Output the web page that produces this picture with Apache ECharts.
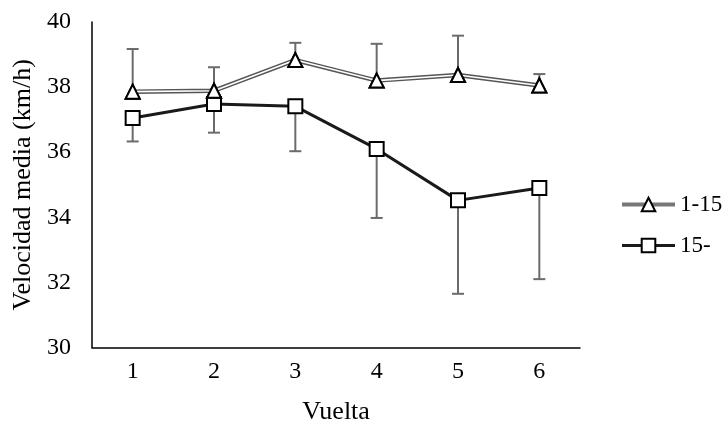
<!DOCTYPE html>
<html>
<head>
<meta charset="utf-8">
<script src="https://cdn.jsdelivr.net/npm/echarts@6/dist/echarts.min.js"></script>
<style>html,body{margin:0;padding:0;background:#fff;}#c{width:723px;height:426px;}</style>
</head>
<body>
<div id="c"></div>
<script>
var categories = ['1', '2', '3', '4', '5', '6'];
var seriesNames = ['1-15', '15-'];
var mean115 = [37.86, 37.89, 38.83, 38.20, 38.37, 38.05];
var sd115 = [1.31, 0.72, 0.53, 1.13, 1.21, 0.35];
var mean15 = [37.05, 37.48, 37.41, 36.10, 34.52, 34.90];
var sd15 = [0.72, 0.88, 1.38, 2.12, 2.87, 2.80];
var yTicks = [30, 32, 34, 36, 38, 40];

var font = "'Liberation Serif', 'Times New Roman', serif";

var errUp = mean115.map(function (m, i) { return [i, m, m + sd115[i]]; });
var errDown = mean15.map(function (m, i) { return [i, m, m - sd15[i]]; });

function renderErr(params, api) {
  var x = api.value(0);
  var p1 = api.coord([x, api.value(1)]);
  var p2 = api.coord([x, api.value(2)]);
  var w = 6;
  var st = { stroke: '#6b6b6b', lineWidth: 2 };
  return {
    type: 'group',
    children: [
      { type: 'line', shape: { x1: p1[0], y1: p1[1], x2: p2[0], y2: p2[1] }, style: st },
      { type: 'line', shape: { x1: p2[0] - w, y1: p2[1], x2: p2[0] + w, y2: p2[1] }, style: st }
    ]
  };
}

var chart = echarts.init(document.getElementById('c'), null, { renderer: 'canvas' });
chart.setOption({
  animation: false,
  backgroundColor: '#fff',
  textStyle: { fontFamily: font },
  grid: { left: 92, right: 143, top: 22, bottom: 78.5, containLabel: false, outerBoundsMode: 'none' },
  legend: {
    data: [
      { name: seriesNames[0], lineStyle: { color: '#777', width: 4 } },
      { name: seriesNames[1], lineStyle: { color: '#1a1a1a', width: 3 } }
    ],
    orient: 'vertical',
    left: 620,
    top: 193,
    padding: 0,
    itemWidth: 53,
    itemHeight: 17,
    itemGap: 18,
    textStyle: { fontFamily: font, fontSize: 23, color: '#000' }
  },
  xAxis: {
    type: 'category',
    data: categories,
    boundaryGap: true,
    name: 'Vuelta',
    nameLocation: 'middle',
    nameGap: 52,
    nameTextStyle: { fontFamily: font, fontSize: 26, color: '#000' },
    axisLine: { lineStyle: { color: '#000', width: 1.5 } },
    axisTick: { show: false },
    axisLabel: { fontFamily: font, fontSize: 24, color: '#000', margin: 12 }
  },
  yAxis: {
    type: 'value',
    min: yTicks[0],
    max: yTicks[yTicks.length - 1],
    interval: 2,
    name: 'Velocidad media (km/h)',
    nameLocation: 'middle',
    nameGap: 53,
    nameTextStyle: { fontFamily: font, fontSize: 26, color: '#000' },
    axisLine: { show: true, lineStyle: { color: '#000', width: 1.5 } },
    axisTick: { show: false },
    splitLine: { show: false },
    axisLabel: { fontFamily: font, fontSize: 24, color: '#000', margin: 21 }
  },
  series: [
    {
      name: 'err115', type: 'custom', renderItem: renderErr, data: errUp,
      encode: { x: 0, y: [1, 2] }, z: 1, silent: true
    },
    {
      name: 'err15', type: 'custom', renderItem: renderErr, data: errDown,
      encode: { x: 0, y: [1, 2] }, z: 1, silent: true
    },
    {
      name: '15-', type: 'line', data: mean15, z: 3,
      symbol: 'rect', symbolSize: 14,
      lineStyle: { color: '#1a1a1a', width: 3 },
      itemStyle: { color: '#fff', borderColor: '#000', borderWidth: 2 }
    },
    {
      name: '1-15', type: 'line', data: mean115, z: 4,
      symbol: 'triangle', symbolSize: 14,
      lineStyle: { color: '#555', width: 4.5 },
      itemStyle: { color: '#fff', borderColor: '#000', borderWidth: 2 }
    },
    {
      name: '1-15 inner', type: 'line', data: mean115, z: 5,
      symbol: 'triangle', symbolSize: 14,
      lineStyle: { color: '#fff', width: 1.6 },
      itemStyle: { color: '#fff', borderColor: '#000', borderWidth: 2 }
    }
  ]
});
</script>
</body>
</html>
